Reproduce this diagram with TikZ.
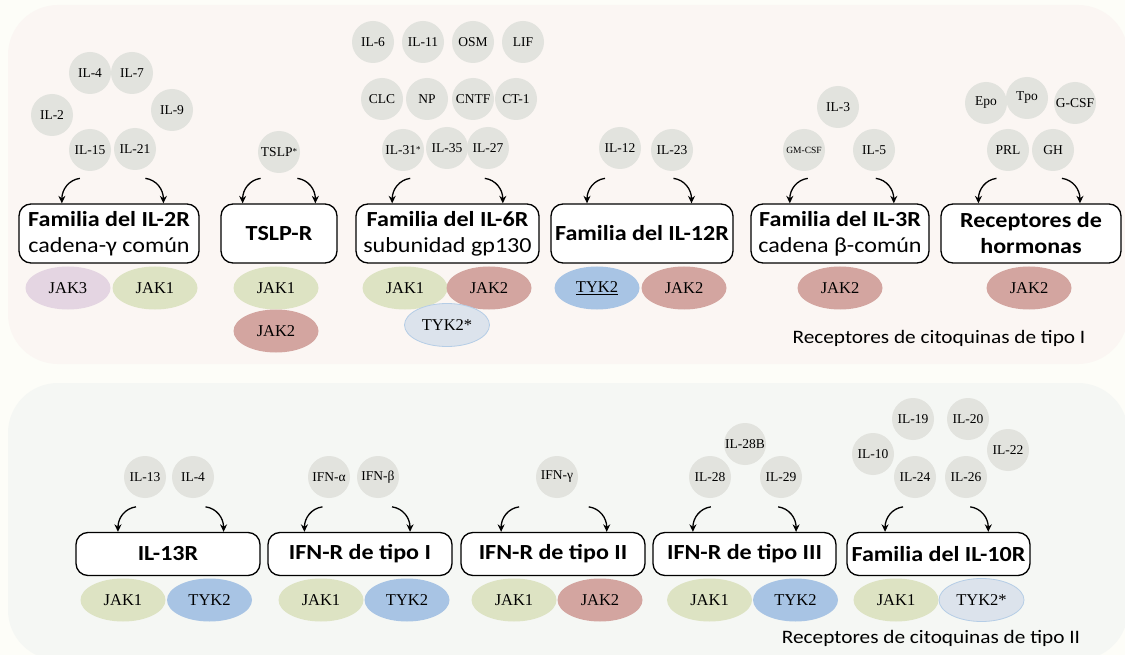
\documentclass[tikz,border=0pt]{standalone}
\usepackage{fontspec}
\setmainfont{Liberation Serif}
\newfontfamily\boxfont[FakeStretch=1.12]{Carlito}
\usetikzlibrary{shapes.geometric,arrows.meta,calc}
\definecolor{bgcol}{HTML}{FDFDF8}
\definecolor{panelA}{HTML}{FBF6F3}
\definecolor{panelB}{HTML}{F5F7F4}
\definecolor{cytgray}{HTML}{E2E3DE}
\definecolor{jakone}{HTML}{DDE3C3}
\definecolor{jaktwo}{HTML}{D3A5A0}
\definecolor{jakthree}{HTML}{E4D5E2}
\definecolor{tykblue}{HTML}{A8C4E4}
\definecolor{tykpale}{HTML}{DCE3EC}
\definecolor{tykedge}{HTML}{B5CDE6}
\newcommand\smallast{{\fontsize{9}{9}\selectfont\raisebox{1.5pt}{*}}}
\newcommand\cyarr[3]{%
  \coordinate (#1-le) at ($(#1.north west)!#2!(#1.north east)$);
  \coordinate (#1-ls) at ($(#1-le)+(18,-25)$);
  \coordinate (#1-re) at ($(#1.north west)!#3!(#1.north east)$);
  \coordinate (#1-rs) at ($(#1-re)+(-18,-25)$);
  \draw[arr] (#1-ls) .. controls +(-11,1.5) and +(0,-14) .. (#1-le);
  \draw[arr] (#1-rs) .. controls +(11,1.5) and +(0,-14) .. (#1-re);}
\begin{document}
\begin{tikzpicture}[x=1pt,y=-1pt,
  cyt/.style={circle, fill=cytgray, minimum size=42pt, inner sep=0pt, font=\fontsize{13.5}{14}\selectfont},
  jak/.style={ellipse, minimum width=85pt, minimum height=43pt, inner sep=0pt, font=\fontsize{16.5}{18}\selectfont},
  rbox/.style={draw=black, line width=1.3pt, fill=white, rounded corners=12pt, align=center, inner sep=0pt, font=\boxfont\fontsize{21.5}{26}\selectfont},
  arr/.style={line width=1.3pt, -{Stealth[length=7.5pt,width=7pt]}},
  plabel/.style={font=\boxfont\fontsize{19}{22}\selectfont, inner sep=0pt}]
\useasboundingbox (0,0) rectangle (1125,655);
\fill[bgcol] (0,0) rectangle (1125,655);
\fill[panelA, rounded corners=50pt] (8,5) rectangle (1128,364);
\fill[panelB, rounded corners=50pt] (8,383) rectangle (1128,660);

% ---------- Type I ----------
% IL-2R family
\node[cyt] (il4) at (90,73) {IL-4};
\node[cyt] (il7) at (132,73) {IL-7};
\node[cyt] (il2) at (52,115) {IL-2};
\node[cyt] (il9) at (172,110) {IL-9};
\node[cyt] (il15) at (90,150) {IL-15};
\node[cyt] (il21) at (135,149) {IL-21};
\node[rbox, minimum width=180pt, minimum height=59pt] (bil2r) at (109,233.5) {\textbf{Familia del IL-2R}\\cadena-γ común};
\node[jak, fill=jakthree] (jak3a) at (68,288) {JAK3};
\node[jak, fill=jakone] (jak1a) at (155,288) {JAK1};
\cyarr{bil2r}{0.24}{0.80}

% TSLP-R
\node[cyt] (tslp) at (279,152) {TSLP\smallast};
\node[rbox, minimum width=116pt, minimum height=59pt] (btslp) at (279,233.5) {\textbf{TSLP-R}};
\node[jak, fill=jakone] (jak1b) at (276,288) {JAK1};
\node[jak, fill=jaktwo] (jak2b) at (276,331) {JAK2};
\cyarr{btslp}{0.19}{0.81}

% IL-6R family
\node[cyt] (il6) at (373,42) {IL-6};
\node[cyt] (il11) at (423,42) {IL-11};
\node[cyt] (osm) at (473,42) {OSM};
\node[cyt] (lif) at (523,42) {LIF};
\node[cyt] (clc) at (382,99) {CLC};
\node[cyt] (np) at (427,99) {NP};
\node[cyt] (cntf) at (473,99) {CNTF};
\node[cyt] (ct1) at (516,99) {CT-1};
\node[cyt] (il31) at (403,150) {IL-31\smallast};
\node[cyt] (il35) at (447,148) {IL-35};
\node[cyt] (il27) at (488,148) {IL-27};
\node[rbox, minimum width=183pt, minimum height=59pt] (bil6r) at (447.5,233.5) {\textbf{Familia del IL-6R}\\subunidad gp130};
\node[jak, fill=jakone] (jak1c) at (405,288) {JAK1};
\node[jak, fill=jaktwo] (jak2c) at (489,288) {JAK2};
\node[jak, fill=tykpale, draw=tykedge, line width=0.8pt] (tyk2c) at (447,325) {TYK2*};
\cyarr{bil6r}{0.20}{0.80}

% IL-12R family
\node[cyt] (il12) at (620,148) {IL-12};
\node[cyt] (il23) at (672,150) {IL-23};
\node[rbox, minimum width=182pt, minimum height=59pt] (bil12r) at (642,233.5) {\textbf{Familia del IL-12R}};
\node[jak, fill=tykblue] (tyk2d) at (597,288) {\underline{TYK2}};
\node[jak, fill=jaktwo] (jak2d) at (684,288) {JAK2};
\cyarr{bil12r}{0.20}{0.77}

% IL-3R family
\node[cyt] (il3) at (838,107) {IL-3};
\node[cyt, font=\fontsize{9.5}{10}\selectfont] (gmcsf) at (804,150) {GM-CSF};
\node[cyt] (il5) at (874,150) {IL-5};
\node[rbox, minimum width=178pt, minimum height=59pt] (bil3r) at (840,233.5) {\textbf{Familia del IL-3R}\\cadena β-común};
\node[jak, fill=jaktwo] (jak2e) at (840,288) {JAK2};
\cyarr{bil3r}{0.22}{0.80}

% Hormone receptors
\node[cyt] (epo) at (986,103) {Epo};
\node[cyt] (tpo) at (1027,98) {\raisebox{4pt}{Tpo}};
\node[cyt] (gcsf) at (1075,103) {G-CSF};
\node[cyt] (prl) at (1008,150) {PRL};
\node[cyt] (gh) at (1053,150) {GH};
\node[rbox, minimum width=180pt, minimum height=59pt] (bhorm) at (1031,233.5) {\textbf{Receptores de}\\\textbf{hormonas}};
\node[jak, fill=jaktwo] (jak2f) at (1029,288) {JAK2};
\cyarr{bhorm}{0.21}{0.77}

\node[plabel] (lab1) at (939,338) {Receptores de citoquinas de tipo I};

% ---------- Type II ----------
% IL-13R
\node[cyt] (il13) at (145,477) {IL-13};
\node[cyt] (il4b) at (193,477) {IL-4};
\node[rbox, minimum width=184pt, minimum height=43pt] (bil13r) at (168,554) {\textbf{IL-13R}};
\node[jak, fill=jakone] (jak1g) at (123,600) {JAK1};
\node[jak, fill=tykblue] (tyk2g) at (209.5,600) {TYK2};
\cyarr{bil13r}{0.23}{0.80}

% IFN-R type I
\node[cyt] (ifna) at (329,477) {IFN-α};
\node[cyt] (ifnb) at (378,477) {IFN-β};
\node[rbox, minimum width=184pt, minimum height=43pt] (bifn1) at (360,554) {\textbf{IFN-R de tipo I}};
\node[jak, fill=jakone] (jak1h) at (321,600) {JAK1};
\node[jak, fill=tykblue] (tyk2h) at (407,600) {TYK2};
\cyarr{bifn1}{0.20}{0.77}

% IFN-R type II
\node[cyt] (ifng) at (557,477) {IFN-γ};
\node[rbox, minimum width=184pt, minimum height=43pt] (bifn2) at (553,554) {\textbf{IFN-R de tipo II}};
\node[jak, fill=jakone] (jak1i) at (514,600) {JAK1};
\node[jak, fill=jaktwo] (jak2i) at (600,600) {JAK2};
\cyarr{bifn2}{0.22}{0.79}

% IFN-R type III
\node[cyt] (il28b) at (745,444) {IL-28B};
\node[cyt] (il28) at (710,477) {IL-28};
\node[cyt] (il29) at (781,477) {IL-29};
\node[rbox, minimum width=183pt, minimum height=43pt] (bifn3) at (744.5,554) {\textbf{IFN-R de tipo III}};
\node[jak, fill=jakone] (jak1j) at (709.5,600) {JAK1};
\node[jak, fill=tykblue] (tyk2j) at (795.5,600) {TYK2};
\cyarr{bifn3}{0.22}{0.78}

% IL-10R family
\node[cyt] (il19) at (913,419) {IL-19};
\node[cyt] (il20) at (968,419) {IL-20};
\node[cyt] (il10) at (873,454) {IL-10};
\node[cyt] (il22) at (1008,450) {IL-22};
\node[cyt] (il24) at (915,477) {IL-24};
\node[cyt] (il26) at (966,477) {IL-26};
\node[rbox, minimum width=183pt, minimum height=43pt] (bil10r) at (938.5,554) {\textbf{Familia del IL-10R}};
\node[jak, fill=jakone] (jak1k) at (896,600) {JAK1};
\node[jak, fill=tykpale, draw=tykedge, line width=0.8pt] (tyk2k) at (981.5,600) {TYK2*};
\cyarr{bil10r}{0.21}{0.77}

\node[plabel] (lab2) at (931,638) {Receptores de citoquinas de tipo II};
\end{tikzpicture}
\end{document}
